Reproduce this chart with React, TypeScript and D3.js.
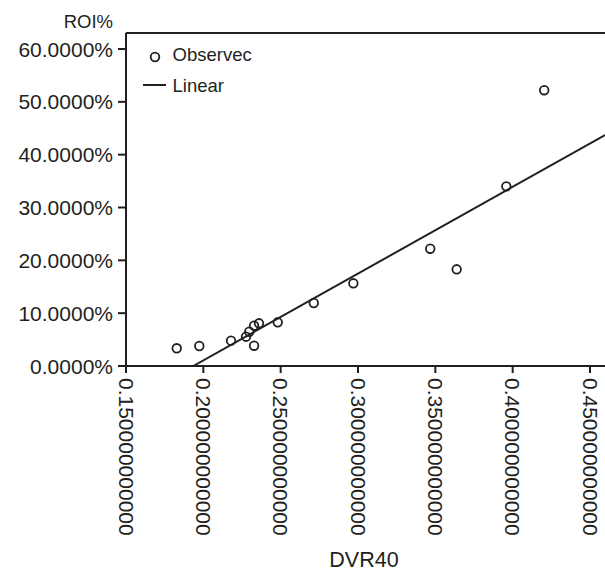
import React from "react";
import * as d3 from "d3";

const dvr40: number[] = [0.1828, 0.1974, 0.2179, 0.2276, 0.2297, 0.2328, 0.236, 0.2328, 0.2481, 0.2714, 0.297, 0.3467, 0.3638, 0.3959, 0.4204];
const roi: number[] = [3.35, 3.79, 4.79, 5.55, 6.49, 7.63, 8.08, 3.84, 8.27, 11.92, 15.65, 22.2, 18.3, 34.0, 52.2];
const lineSlope = 164.2;
const lineIntercept = -31.77;
const xTicks: number[] = [0.15, 0.2, 0.25, 0.3, 0.35, 0.4, 0.45];
const yTicks: number[] = [0, 10, 20, 30, 40, 50, 60];
const legendLabels: string[] = ["Observec", "Linear"];

const W = 605;
const H = 573;
const left = 126;
const right = 605;
const top = 33;
const bottom = 366;
const FONT = "'Liberation Sans', Arial, Helvetica, sans-serif";
const INK = "#231f20";

export default function App() {
  const x = d3.scaleLinear().domain([0.15, 0.45]).range([left, 590]);
  const y = d3.scaleLinear().domain([0, 60]).range([bottom, 49]);
  const xMax = x.invert(right);
  const x0 = -lineIntercept / lineSlope;
  const lineGen = d3
    .line<number>()
    .x((d) => x(d))
    .y((d) => y(lineSlope * d + lineIntercept));
  return (
    <svg
      width={W}
      height={H}
      style={{ position: "absolute", left: 0, top: 0, background: "#fff" }}
      fontFamily={FONT}
    >
      <defs>
        <clipPath id="plot">
          <rect x={left} y={top} width={right - left} height={bottom - top} />
        </clipPath>
      </defs>
      {/* frame */}
      <line x1={left} y1={top} x2={right} y2={top} stroke={INK} strokeWidth={2} />
      <line x1={left} y1={top} x2={left} y2={bottom} stroke={INK} strokeWidth={2} />
      <line x1={left - 8} y1={bottom} x2={right} y2={bottom} stroke={INK} strokeWidth={2} />
      {/* y ticks */}
      {yTicks.map((t) => (
        <g key={"y" + t}>
          <line x1={left - 8} x2={left} y1={y(t)} y2={y(t)} stroke={INK} strokeWidth={2} />
          <text
            x={113}
            y={y(t)}
            textAnchor="end"
            dominantBaseline="central"
            fontSize={21}
            fill={INK}
          >
            {d3.format(".4f")(t) + "%"}
          </text>
        </g>
      ))}
      <text x={113} y={28} textAnchor="end" fontSize={18.5} fill={INK}>
        ROI%
      </text>
      {/* x ticks */}
      {xTicks.map((t) => (
        <g key={"x" + t}>
          <line x1={x(t)} x2={x(t)} y1={bottom} y2={bottom + 7} stroke={INK} strokeWidth={2} />
          <text
            transform={`translate(${x(t)},${378}) rotate(90)`}
            textAnchor="start"
            dominantBaseline="central"
            fontSize={21}
            fill={INK}
          >
            {d3.format(".12f")(t)}
          </text>
        </g>
      ))}
      <text x={364} y={567} textAnchor="middle" fontSize={21.5} fill={INK}>
        DVR40
      </text>
      {/* regression line */}
      <g clipPath="url(#plot)">
        <path d={lineGen([x0, xMax]) || ""} stroke={INK} strokeWidth={2} fill="none" />
      </g>
      {/* points */}
      {dvr40.map((d, i) => (
        <circle key={i} cx={x(d)} cy={y(roi[i])} r={4.3} fill="none" stroke={INK} strokeWidth={1.8} />
      ))}
      {/* legend */}
      <circle cx={155} cy={57} r={4.3} fill="none" stroke={INK} strokeWidth={1.8} />
      <text x={172.5} y={61} fontSize={18.5} fill={INK}>
        {legendLabels[0]}
      </text>
      <line x1={143} x2={166} y1={85} y2={85} stroke={INK} strokeWidth={2} />
      <text x={172.5} y={92} fontSize={18.5} fill={INK}>
        {legendLabels[1]}
      </text>
    </svg>
  );
}
